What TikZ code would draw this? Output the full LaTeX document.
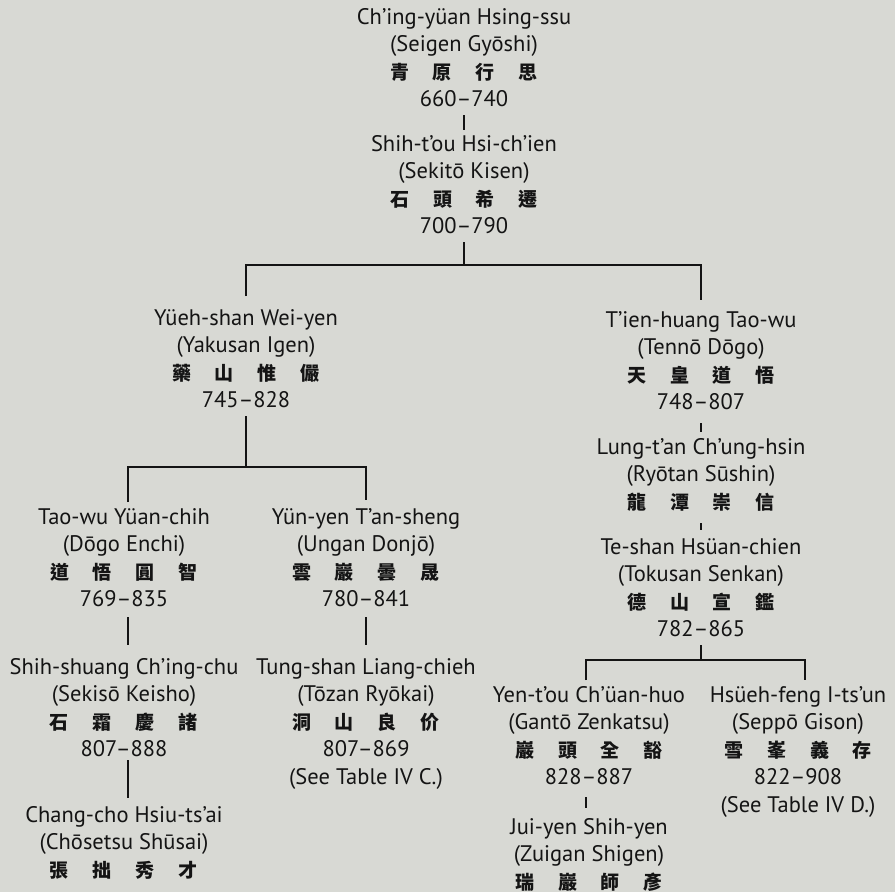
\documentclass[tikz,border=0pt]{standalone}
\usepackage{fontspec}
\setmainfont{PT Sans}
\newfontfamily\cjkfont{Noto Sans CJK TC}
\usetikzlibrary{calc}
\definecolor{bg}{HTML}{D8D9D4}
\definecolor{ink}{HTML}{141414}
\newcommand\cjrow[4]{{\cjkfont\bfseries\fontsize{19}{27.5}\selectfont #1\hspace{24pt}#2\hspace{24pt}#3\hspace{24pt}#4}}
\begin{document}
\begin{tikzpicture}[x=1pt,y=-1pt,
  person/.style={anchor=north, align=center, inner sep=0pt, font=\fontsize{22.5}{27.5}\selectfont, text=ink},
  link/.style={draw=ink, line width=1.4pt}]
\fill[bg] (0,0) rectangle (895,892);
\useasboundingbox (0,0) rectangle (895,892);

\node[person] (ci) at (464,5) {\strut Ch’ing-yüan Hsing-ssu\\(Seigen Gyōshi)\\\cjrow{青}{原}{行}{思}\\660–740\strut};
\node[person] (st) at (464,132) {\strut Shih-t’ou Hsi-ch’ien\\(Sekitō Kisen)\\\cjrow{石}{頭}{希}{遷}\\700–790\strut};
\node[person] (ys) at (246,306) {\strut Yüeh-shan Wei-yen\\(Yakusan Igen)\\\cjrow{藥}{山}{惟}{儼}\\745–828\strut};
\node[person] (th) at (701,308) {\strut T’ien-huang Tao-wu\\(Tennō Dōgo)\\\cjrow{天}{皇}{道}{悟}\\748–807\strut};
\node[person] (lt) at (701,435) {\strut Lung-t’an Ch’ung-hsin\\(Ryōtan Sūshin)\\\cjrow{龍}{潭}{崇}{信}\strut};
\node[person] (ts) at (701,535) {\strut Te-shan Hsüan-chien\\(Tokusan Senkan)\\\cjrow{德}{山}{宣}{鑑}\\782–865\strut};
\node[person] (tw) at (124,505) {\strut Tao-wu Yüan-chih\\(Dōgo Enchi)\\\cjrow{道}{悟}{圓}{智}\\769–835\strut};
\node[person] (yy) at (366,505) {\strut Yün-yen T’an-sheng\\(Ungan Donjō)\\\cjrow{雲}{巖}{曇}{晟}\\780–841\strut};
\node[person] (ss) at (124,655) {\strut Shih-shuang Ch’ing-chu\\(Sekisō Keisho)\\\cjrow{石}{霜}{慶}{諸}\\807–888\strut};
\node[person] (tu) at (366,655) {\strut Tung-shan Liang-chieh\\(Tōzan Ryōkai)\\\cjrow{洞}{山}{良}{价}\\807–869\\(See Table IV C.)\strut};
\node[person] (cc) at (124,803) {\strut Chang-cho Hsiu-ts’ai\\(Chōsetsu Shūsai)\\\cjrow{張}{拙}{秀}{才}\strut};
\node[person] (yt) at (589,683) {\strut Yen-t’ou Ch’üan-huo\\(Gantō Zenkatsu)\\\cjrow{巖}{頭}{全}{豁}\\828–887\strut};
\node[person] (hf) at (798,683) {\strut Hsüeh-feng I-ts’un\\(Seppō Gison)\\\cjrow{雪}{峯}{義}{存}\\822–908\\(See Table IV D.)\strut};
\node[person] (jy) at (589,815) {\strut Jui-yen Shih-yen\\(Zuigan Shigen)\\\cjrow{瑞}{巖}{師}{彥}\strut};

\coordinate (j1) at (464,265);
\coordinate (j2) at (246,467);
\coordinate (j3) at (701,660);

\draw[link] (ci.south) -- ([yshift=2pt]st.north);
\draw[link] (st.south) -- (j1);
\draw[link] ([yshift=10pt]ys.north) |- (j1) -| ([yshift=8pt]th.north);
\draw[link] (ys.south) -- (j2);
\draw[link] ([xshift=4pt,yshift=3pt]tw.north) |- (j2) -| ([yshift=5pt]yy.north);
\draw[link] ([xshift=4pt,yshift=-2pt]tw.south) -- ([xshift=4pt,yshift=10pt]ss.north);
\draw[link] ([yshift=-2pt]yy.south) -- ([yshift=10pt]tu.north);
\draw[link] ([xshift=4pt,yshift=5pt]ss.south) -- ([xshift=4pt,yshift=5pt]cc.north);
\draw[link] ([yshift=-5pt]th.south) -- ([yshift=3pt]lt.north);
\draw[link] ([yshift=-5.5pt]lt.south) -- ([yshift=5pt]ts.north);
\draw[link] (ts.south) -- (j3);
\draw[link] ([xshift=-3pt,yshift=3pt]yt.north) |- (j3) -| ([xshift=7pt,yshift=3pt]hf.north);
\draw[link] ([xshift=-3pt,yshift=-4pt]yt.south) -- ([xshift=-3pt,yshift=7pt]jy.north);
\end{tikzpicture}
\end{document}
